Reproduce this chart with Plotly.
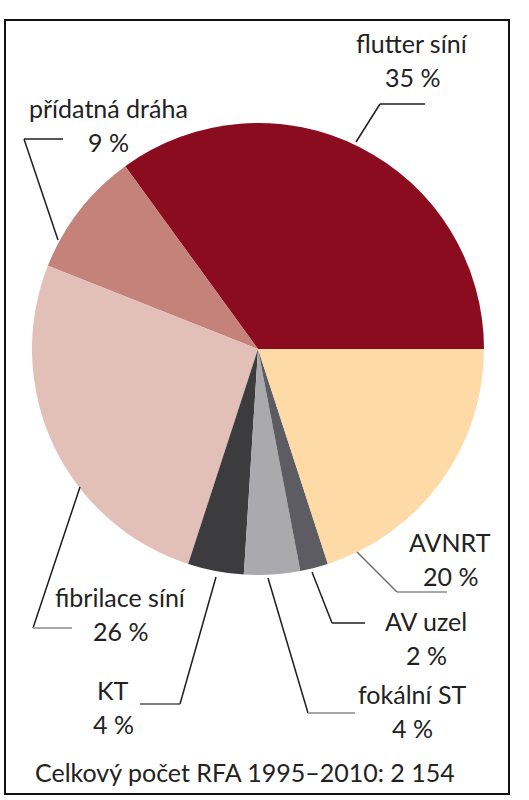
import plotly.graph_objects as go

# data
labels = ['flutter síní', 'přídatná dráha', 'fibrilace síní', 'KT', 'fokální ST', 'AV uzel', 'AVNRT']
values = [35, 9, 26, 4, 4, 2, 20]
colors = ['#8c0c1f', '#c4827a', '#e2bfb7', '#3c3c3e', '#aaaaae', '#5c5c62', '#fddaa6']
footer = 'Celkový počet RFA 1995–2010: 2 154'

W, H = 529, 800
FONT = 'Lato'
FS = 25
TXT = '#222222'


def px(x):
    return x / W


def py(y):
    return 1 - y / H


# pie geometry in pixels (center, radius)
cx, cy, r = 258, 349, 226

fig = go.Figure(go.Pie(
    labels=labels,
    values=values,
    sort=False,
    direction='counterclockwise',
    rotation=-36,
    marker=dict(colors=colors, line=dict(width=0)),
    textinfo='none',
    hoverinfo='label+percent',
    showlegend=False,
    domain=dict(x=[px(cx - r), px(cx + r)], y=[py(cy + r), py(cy - r)]),
))

# label positions (center of text, name line y)
label_pos = {
    'flutter síní': (412, 43),
    'přídatná dráha': (108, 108),
    'fibrilace síní': (120, 597),
    'KT': (113, 690),
    'fokální ST': (412, 694),
    'AV uzel': (426, 621),
    'AVNRT': (450, 542),
}

annotations = []
for name, val in zip(labels, values):
    x, y = label_pos[name]
    annotations.append(dict(x=px(x), y=py(y), xref='paper', yref='paper',
                            text=name, showarrow=False, xanchor='center', yanchor='middle',
                            font=dict(family=FONT, size=FS, color=TXT)))
    annotations.append(dict(x=px(x), y=py(y + 34), xref='paper', yref='paper',
                            text=f'{val} %', showarrow=False, xanchor='center', yanchor='middle',
                            font=dict(family=FONT, size=FS, color=TXT)))

annotations.append(dict(x=px(245), y=py(772), xref='paper', yref='paper',
                        text=footer, showarrow=False, xanchor='center', yanchor='middle',
                        font=dict(family=FONT, size=FS, color=TXT)))

# leader lines: list of points (px) and colour
BLK = '#1e1e1e'
GRY = '#8a8a8a'
leaders = [
    ([(356, 142), (380, 104)], BLK), ([(380, 104), (425, 104)], BLK),
    ([(58, 240), (24, 139)], BLK), ([(24, 139), (63, 139)], BLK),
    ([(80, 487), (33, 628)], BLK), ([(33, 628), (72, 628)], GRY),
    ([(216, 577), (180, 704)], BLK), ([(180, 704), (140, 704)], '#555555'),
    ([(268, 578), (308, 713)], BLK), ([(308, 713), (355, 713)], GRY),
    ([(312, 572), (332, 623)], BLK), ([(332, 623), (365, 623)], BLK),
    ([(357, 552), (397, 592)], '#6a6a6a'), ([(397, 592), (447, 592)], GRY),
]

shapes = []
for pts, col in leaders:
    (x0, y0), (x1, y1) = pts
    shapes.append(dict(type='line', xref='paper', yref='paper',
                       x0=px(x0), y0=py(y0), x1=px(x1), y1=py(y1),
                       line=dict(color=col, width=1.5)))

# frame
shapes.append(dict(type='rect', xref='paper', yref='paper',
                   x0=px(5), y0=py(794), x1=px(509), y1=py(20),
                   line=dict(color='#111111', width=2)))

fig.update_layout(
    width=W, height=H,
    margin=dict(l=0, r=0, t=0, b=0),
    paper_bgcolor='white',
    plot_bgcolor='white',
    annotations=annotations,
    shapes=shapes,
)

# drop the browser's default 8px body margin so the figure sits at (0, 0)
fig.write_html('out.html', config={'displayModeBar': False},
               post_script="document.body.style.margin='0px';")
